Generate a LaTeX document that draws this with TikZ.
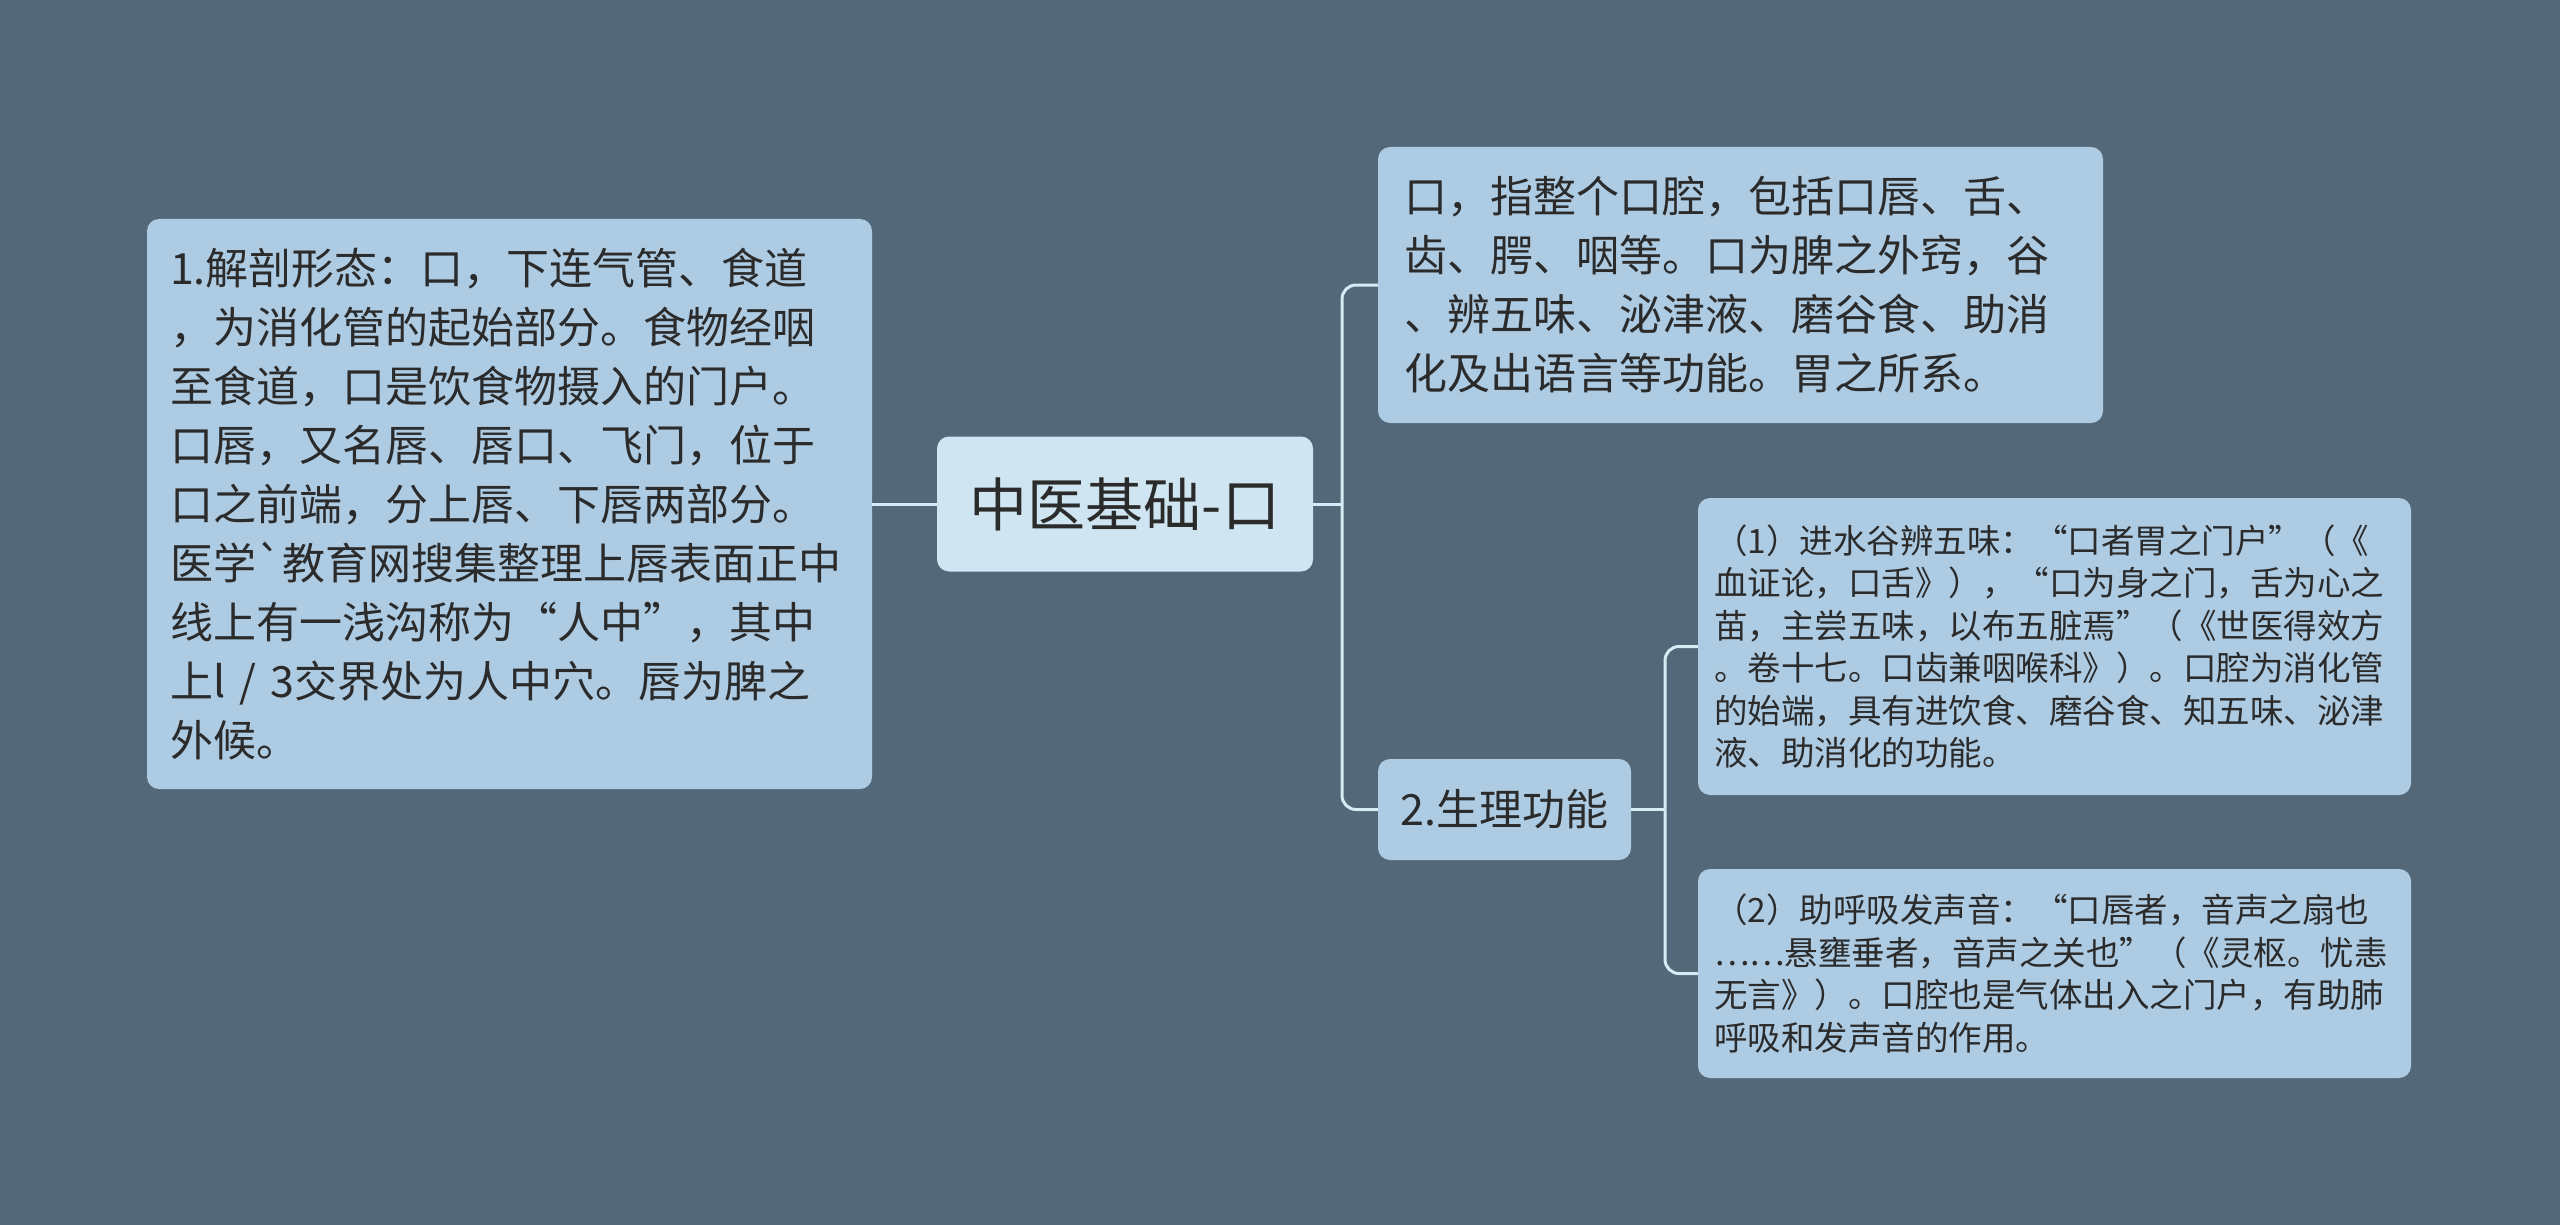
\documentclass[tikz,border=0pt]{standalone}
\usepackage{fontspec}
\setmainfont{Noto Sans CJK SC}
\usepackage{xcolor}
\usepackage{tikz}
\usetikzlibrary{positioning,calc}

\definecolor{bgcol}{HTML}{536878}
\definecolor{boxcol}{HTML}{ADCBE2}
\definecolor{rootcol}{HTML}{CFE6F2}
\definecolor{linecol}{HTML}{D6EBF5}
\definecolor{txtcol}{HTML}{2B2B2B}

\newcommand{\graveglyph}{\XeTeXglyph\XeTeXcharglyph"60\relax}

\begin{document}
\begin{tikzpicture}[x=1pt, y=1pt,
    block/.style={rectangle, fill=boxcol, text=txtcol, rounded corners=12pt, inner xsep=23pt, inner ysep=0pt, align=left, font=\fontsize{43pt}{59pt}\selectfont},
    smallblock/.style={block, inner xsep=16pt, font=\fontsize{33.5pt}{42.5pt}\selectfont},
    rootblock/.style={rectangle, fill=rootcol, text=txtcol, rounded corners=12pt, inner sep=0pt, font=\fontsize{58pt}{70pt}\selectfont},
    line/.style={draw=linecol, line width=3pt, rounded corners=14pt}]

    \fill [bgcol] (0,0) rectangle (2560,-1225);
    \useasboundingbox (0,0) rectangle (2560,-1225);

    \node [rootblock, minimum width=376pt, minimum height=135pt] (root) at (1125,-504) {中医基础-口};

    \node [block, text width=679pt, minimum height=570pt] (anatomy) at (509.5,-504) {1.解剖形态：口，下连气管、食道\\，为消化管的起始部分。食物经咽\\至食道，口是饮食物摄入的门户。\\口唇，又名唇、唇口、飞门，位于\\口之前端，分上唇、下唇两部分。\\医学\graveglyph 教育网搜集整理上唇表面正中\\线上有一浅沟称为“人中”，其中\\上l / 3交界处为人中穴。唇为脾之\\外候。};

    \node [block, inner xsep=26pt, text width=673pt, minimum height=276pt] (mouth) at (1740.5,-285) {口，指整个口腔，包括口唇、舌、\\齿、腭、咽等。口为脾之外窍，谷\\、辨五味、泌津液、磨谷食、助消\\化及出语言等功能。胃之所系。};

    \node [block, align=center, inner xsep=0pt, minimum width=253pt, minimum height=101pt] (func) at (1504.5,-809.5) {2.生理功能};

    \node [smallblock, text width=681pt, minimum height=297pt] (taste) at (2054.5,-646.5) {（1）进水谷辨五味：“口者胃之门户”（《\\血证论，口舌》），“口为身之门，舌为心之\\苗，主尝五味，以布五脏焉”（《世医得效方\\。卷十七。口齿兼咽喉科》）。口腔为消化管\\的始端，具有进饮食、磨谷食、知五味、泌津\\液、助消化的功能。};

    \node [smallblock, text width=681pt, minimum height=209pt] (voice) at (2054.5,-973.5) {（2）助呼吸发声音：“口唇者，音声之扇也\\……悬壅垂者，音声之关也”（《灵枢。忧恚\\无言》）。口腔也是气体出入之门户，有助肺\\呼吸和发声音的作用。};

    % connectors
    \coordinate (rootjoin) at (1342,-504);
    \coordinate (funcjoin) at (1665,-809.5);

    \draw [line] (root.west) -- (anatomy.east);
    \draw [line] (root.east) -- (rootjoin);
    \draw [line] (rootjoin) |- (mouth.west);
    \draw [line] (rootjoin) |- (func.west);

    \draw [line] (func.east) -- (funcjoin);
    \draw [line] (funcjoin) |- (taste.west);
    \draw [line] (funcjoin) |- (voice.west);
\end{tikzpicture}
\end{document}
